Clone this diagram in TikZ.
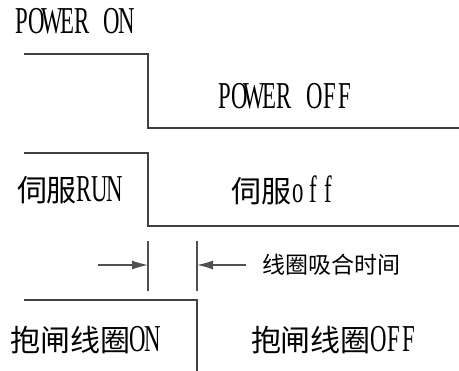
\documentclass[tikz,border=0pt]{standalone}
\usepackage{fontspec}
\usetikzlibrary{arrows.meta}
\newfontfamily\cjk{Noto Sans CJK SC}
\newfontfamily\lat[FakeStretch=0.6]{Liberation Serif}
\makeatletter
\def\mw#1{\mw@loop#1\relax}
\def\mw@loop#1{\ifx\relax#1\else\makebox[15pt]{\lat\fontsize{38pt}{40pt}\selectfont #1}\expandafter\mw@loop\fi}
\makeatother
\definecolor{sigcol}{HTML}{404040}
\definecolor{tickcol}{HTML}{505050}
\begin{document}
\begin{tikzpicture}[x=1pt,y=-1pt,
  sig/.style={draw=sigcol,line width=2.6pt},
  tickline/.style={draw=tickcol,line width=1.3pt},
  dimarrow/.style={draw=tickcol,line width=1.3pt,-{Latex[length=16pt,width=9pt]}},
  lbl/.style={inner sep=0pt,font=\fontsize{30pt}{32pt}\selectfont},
  small/.style={inner sep=0pt,font=\fontsize{23pt}{25pt}\selectfont\cjk}]
\useasboundingbox (0,0) rectangle (459,371);
% signal 1
\coordinate (a1) at (24,54);
\coordinate (a2) at (148,54);
\coordinate (a3) at (148,128);
\coordinate (a4) at (460,128);
\draw[sig] (a1) -- (a2) -- (a3) -- (a4);
% signal 2
\coordinate (b1) at (24,153);
\coordinate (b2) at (148,153);
\coordinate (b3) at (148,226);
\coordinate (b4) at (460,226);
\draw[sig] (b1) -- (b2) -- (b3) -- (b4);
% ticks
\coordinate (t1a) at (148,241);
\coordinate (t1b) at (148,291);
\coordinate (t2a) at (197,241);
\coordinate (t2b) at (197,291);
\draw[tickline] (t1a) -- (t1b);
\draw[tickline] (t2a) -- (t2b);
\coordinate (l0) at (98,265);
\coordinate (l1) at (148,265);
\coordinate (r0) at (246,265);
\coordinate (r1) at (197,265);
\draw[dimarrow] (l0) -- (l1);
\draw[dimarrow] (r0) -- (r1);
% signal 3
\coordinate (c1) at (24,300);
\coordinate (c2) at (197,300);
\coordinate (c3) at (197,372);
\draw[sig] (c1) -- (c2) -- (c3);
% labels
\node[lbl] (pon) at (74.5,21) {\mw{POWER~ON}};
\node[lbl] (poff) at (284.5,96) {\mw{POWER~OFF}};
\node[lbl] (srun) at (69.5,190) {\cjk 伺服\mw{RUN}};
\node[lbl] (soff) at (283.5,190) {\cjk 伺服\mw{off}};
\node[small] (coil) at (331,265) {线圈吸合时间};
\node[lbl] (bon) at (85.5,340) {\cjk 抱闸线圈\mw{ON}};
\node[lbl] (boff) at (333.5,340) {\cjk 抱闸线圈\mw{OFF}};
\end{tikzpicture}
\end{document}
